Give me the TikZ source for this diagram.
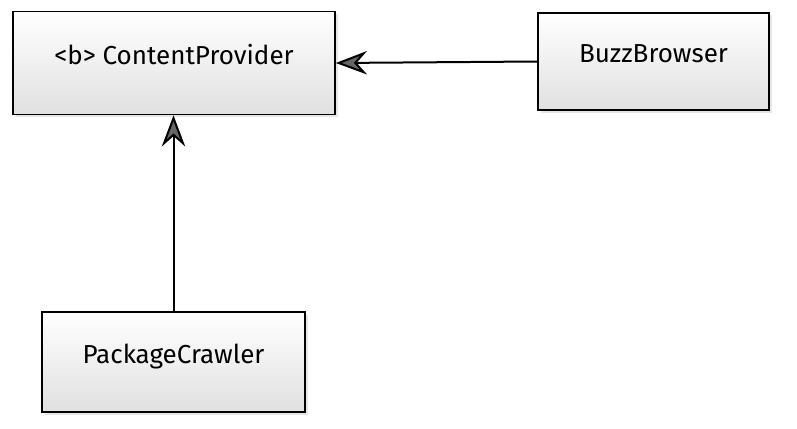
\documentclass[tikz,border=0pt]{standalone}
\usepackage{fontspec}
\setmainfont{Fira Sans}
\usetikzlibrary{arrows.meta,shapes,positioning,shadows}
\tikzset{classbox/.style={rectangle, draw, line width=1.6pt, inner sep=0pt,
    top color=white, bottom color=black!12,
    drop shadow={opacity=0.2, shadow xshift=2.5pt, shadow yshift=-2.5pt},
    text height=18pt, text depth=15pt, font=\fontsize{26}{30}\selectfont},
  assoc/.style={draw=black, line width=2pt,
    arrows={-{Stealth[scale=2.6, inset=4pt, fill=black!60]}}}}

\begin{document}
\begin{tikzpicture}[x=1pt, y=-1pt]
    \useasboundingbox (0,0) rectangle (797,428);

    \node[classbox, minimum width=322pt, minimum height=103pt] (provider) at (174,63) {<b> ContentProvider};
    \node[classbox, minimum width=231pt, minimum height=97pt] (browser) at (653.5,61.5) {BuzzBrowser};
    \node[classbox, minimum width=263pt, minimum height=100pt] (crawler) at (173.5,362) {PackageCrawler};

    \draw[assoc] (browser.west) -- (provider.east);
    \draw[assoc] (crawler.north) -- (crawler.north |- provider.south);
\end{tikzpicture}
\end{document}
